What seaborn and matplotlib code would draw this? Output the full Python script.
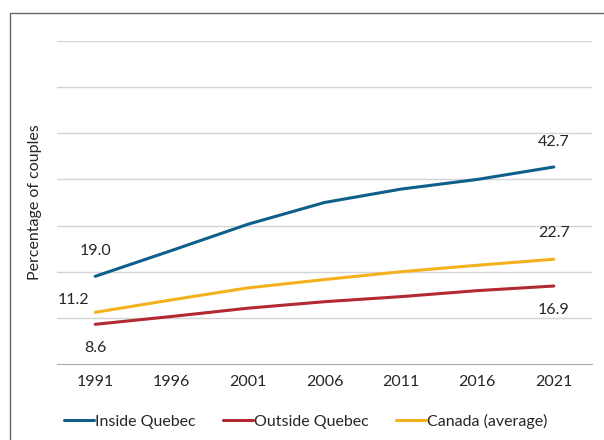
import pandas as pd
import matplotlib.pyplot as plt
import seaborn as sns

# Datos
years = ['1991', '1996', '2001', '2006', '2011', '2016', '2021']
inside_quebec = [19.0, 24.6, 30.3, 35.0, 37.9, 40.0, 42.7]
outside_quebec = [8.6, 10.3, 12.1, 13.5, 14.6, 15.9, 16.9]
canada_avg = [11.2, 13.9, 16.5, 18.3, 20.0, 21.4, 22.7]
series_names = ['Inside Quebec', 'Outside Quebec', 'Canada (average)']
colores = ['#0E5F8A', '#B22A2F', '#F3B11E']

df = pd.DataFrame({
    'pos': list(range(len(years))) * 3,
    'valor': inside_quebec + outside_quebec + canada_avg,
    'serie': [s for s in series_names for _ in years],
})

sns.set_style('white')
plt.rcParams['font.family'] = ['Lato', 'DejaVu Sans']
fs = 11.5

fig = plt.figure(figsize=(6.04, 4.40), dpi=100)
ax = fig.add_axes([57 / 604, 76 / 440, 535 / 604, 323 / 440])

sns.lineplot(data=df, x='pos', y='valor', hue='serie', palette=colores,
             hue_order=series_names, linewidth=2.2, sort=False, ax=ax, legend=False)

ax.set_xlim(-0.5, len(years) - 0.5)
ax.set_ylim(0, 70)
ax.set_yticks(range(10, 71, 10))
ax.set_yticklabels([])
ax.tick_params(axis='y', length=0)
ax.grid(axis='y', color='#d4d4d4', linewidth=1.0)
ax.set_axisbelow(True)

# ticks entre categorías
ax.set_xticks([i - 0.5 for i in range(len(years) + 1)], minor=False)
ax.set_xticklabels([])
ax.set_xticks(range(len(years)), minor=True)
ax.set_xticklabels(years, minor=True, fontsize=fs)
ax.tick_params(axis='x', which='major', length=4, color='#aaaaaa', width=1, direction='out')
ax.tick_params(axis='x', which='minor', length=0, pad=8)

for lado in ['top', 'right', 'left']:
    ax.spines[lado].set_visible(False)
ax.spines['bottom'].set_color('#aaaaaa')

ax.set_xlabel('')
ax.set_ylabel('Percentage of couples', fontsize=fs, labelpad=7)

# Etiquetas de valores
ultimo = len(years) - 1
ax.annotate('19.0', (0, inside_quebec[0]), xytext=(0, 13), textcoords='offset points',
            ha='center', va='bottom', fontsize=fs)
ax.annotate('11.2', (0, canada_avg[0]), xytext=(-4, 4), textcoords='offset points',
            ha='right', va='bottom', fontsize=fs)
ax.annotate('8.6', (0, outside_quebec[0]), xytext=(0, -12), textcoords='offset points',
            ha='center', va='top', fontsize=fs)
ax.annotate('42.7', (ultimo, inside_quebec[-1]), xytext=(0, 13), textcoords='offset points',
            ha='center', va='bottom', fontsize=fs)
ax.annotate('22.7', (ultimo, canada_avg[-1]), xytext=(0, 14), textcoords='offset points',
            ha='center', va='bottom', fontsize=fs)
ax.annotate('16.9', (ultimo, outside_quebec[-1]), xytext=(0, -12), textcoords='offset points',
            ha='center', va='top', fontsize=fs)

# Leyenda abajo
handles = [plt.Line2D([], [], color=c, linewidth=2.2) for c in colores]
fig.legend(handles, series_names, loc='center left', bbox_to_anchor=(64 / 604, 19 / 440),
           ncol=3, frameon=False, fontsize=fs, handlelength=1.9, handletextpad=0.05,
           columnspacing=1.7, borderaxespad=0, borderpad=0)

# Marco de la figura
marco = plt.Rectangle((10 / 604, -0.2), 1.2, 1.2 - 13 / 440, transform=fig.transFigure,
                      fill=False, edgecolor='#666666', linewidth=1.0, clip_on=False)
fig.patches.append(marco)

fig.savefig('out.png', dpi=100)
